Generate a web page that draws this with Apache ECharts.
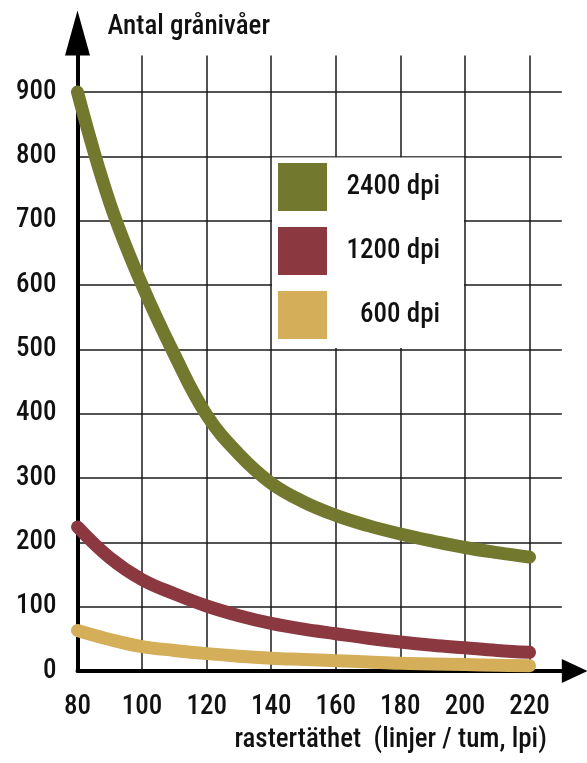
<!DOCTYPE html>
<html><head><meta charset="utf-8">
<script src="https://cdn.jsdelivr.net/npm/echarts@6/dist/echarts.min.js"></script>
<style>html,body{margin:0;padding:0;background:#fff}#c{width:587px;height:763px}</style>
</head><body><div id="c"></div>
<script>
const lpi = [80, 90, 100, 110, 120, 130, 140, 150, 160, 170, 180, 190, 200, 210, 220];
const dpi2400 = [900, 728, 600, 492, 398, 337, 292, 263, 242, 226, 213, 202, 192, 184, 177];
const dpi1200 = [224, 176, 142, 120, 101, 86, 74, 65, 58, 51, 45, 40, 36, 32, 29];
const dpi600 = [63, 49, 38, 32, 27, 23, 20, 18, 16, 14, 12, 11, 10, 9, 8];
const seriesNames = ['2400 dpi', '1200 dpi', '600 dpi'];
const seriesColors = ['#73782f', '#8b3840', '#d4ae58'];
const yTitle = 'Antal grånivåer';
const xTitle = 'rastertäthet  (linjer / tum, lpi)';

const FONT = "'Roboto Condensed','Liberation Sans Narrow','DejaVu Sans Condensed',sans-serif";
const FS = 27;
const pairs = vals => lpi.map((x, i) => [x, vals[i]]);
const allVals = [dpi2400, dpi1200, dpi600];

const chart = echarts.init(document.getElementById('c'));
chart.setOption({
  animation: false,
  backgroundColor: '#fff',
  grid: { left: 77.5, right: 25.2, top: 55.4, bottom: 92, containLabel: false },
  legend: {
    orient: 'vertical',
    left: 272, top: 157.5,
    padding: [5.5, 24, 9, 6],
    backgroundColor: '#fff',
    itemWidth: 49, itemHeight: 48, itemGap: 16,
    icon: 'rect',
    selectedMode: false,
    data: seriesNames,
    formatter: '{a|{name}}',
    textStyle: {
      rich: { a: { width: 108, align: 'right', fontSize: FS, fontFamily: FONT, fontWeight: 500, color: '#111' } }
    }
  },
  xAxis: {
    type: 'value', min: 80, max: 230, interval: 20,
    name: xTitle, nameLocation: 'end', nameGap: -15,
    nameTextStyle: { fontSize: FS, fontFamily: FONT, fontWeight: 500, color: '#111', align: 'right', verticalAlign: 'top', padding: [56, 0, 0, 0] },
    axisLine: { show: true, lineStyle: { color: '#000', width: 4 }, symbol: ['none', 'triangle'], symbolSize: [24, 26], symbolOffset: [0, 13] },
    axisTick: { show: false },
    axisLabel: { fontSize: FS, fontFamily: FONT, fontWeight: 500, color: '#111', margin: 23, showMaxLabel: false },
    splitLine: { show: true, showMaxLine: false, lineStyle: { color: '#1a1a1a', width: 1.5 } }
  },
  yAxis: {
    type: 'value', min: 0, max: 957, interval: 100,
    name: yTitle, nameLocation: 'end', nameGap: 28,
    nameTextStyle: { fontSize: FS, fontFamily: FONT, fontWeight: 500, color: '#111', align: 'left', verticalAlign: 'middle', padding: [0, 0, 0, 30] },
    axisLine: { show: true, lineStyle: { color: '#000', width: 4 }, symbol: ['none', 'triangle'], symbolSize: [25, 45], symbolOffset: [0, 22.5] },
    axisTick: { show: false },
    axisLabel: { fontSize: FS, fontFamily: FONT, fontWeight: 500, color: '#111', margin: 21, showMaxLabel: false },
    splitLine: { show: true, showMaxLine: false, lineStyle: { color: '#1a1a1a', width: 1.5 } }
  },
  series: seriesNames.map((n, i) => ({
    name: n, type: 'line', smooth: 0.4, showSymbol: false, symbol: 'none',
    data: pairs(allVals[i]),
    itemStyle: { color: seriesColors[i] },
    lineStyle: { color: seriesColors[i], width: 13, cap: 'round', join: 'round' },
    z: 3
  }))
});
</script>
</body></html>
